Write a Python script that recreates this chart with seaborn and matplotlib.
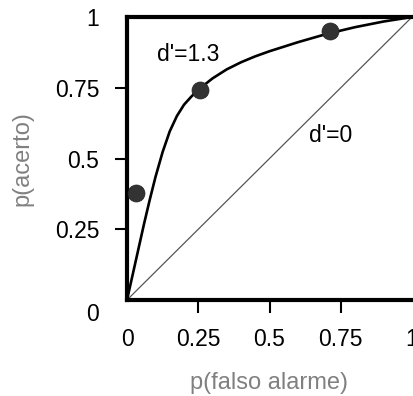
import matplotlib
matplotlib.use("Agg")
import matplotlib.pyplot as plt
import matplotlib.transforms as mtrans
import seaborn as sns
import pandas as pd

# ROC curve for d'=1.3
curve_fa = [0.0, 0.02, 0.04, 0.06, 0.08, 0.10, 0.125, 0.15, 0.175, 0.20, 0.225,
            0.25, 0.30, 0.35, 0.40, 0.45, 0.50, 0.60, 0.70, 0.80, 0.90, 1.0]
curve_hit = [0.0, 0.09, 0.18, 0.27, 0.355, 0.435, 0.523, 0.596, 0.650, 0.690, 0.718,
             0.743, 0.783, 0.815, 0.840, 0.861, 0.879, 0.911, 0.940, 0.964, 0.984, 1.0]
# chance diagonal (d'=0)
diag_fa = [0.0, 1.0]
diag_hit = [0.0, 1.0]
# observed points
pts_fa = [0.032, 0.256, 0.712]
pts_hit = [0.378, 0.742, 0.951]

tick_vals = [0, 0.25, 0.5, 0.75, 1]
tick_labels = ["0", "0.25", "0.5", "0.75", "1"]

sns.set_style("white")
plt.rcParams['font.family'] = ['Liberation Sans', 'DejaVu Sans']

W, H = 413, 396
fig = plt.figure(figsize=(W / 100, H / 100), dpi=100)
ax = fig.add_axes([127 / W, (H - 300) / H, 285 / W, 283 / H])

curve_df = pd.DataFrame({"fa": curve_fa, "hit": curve_hit})
diag_df = pd.DataFrame({"fa": diag_fa, "hit": diag_hit})
pts_df = pd.DataFrame({"fa": pts_fa, "hit": pts_hit})

sns.lineplot(data=diag_df, x="fa", y="hit", ax=ax, color="#555555", lw=0.9,
             sort=False, estimator=None)
sns.lineplot(data=curve_df, x="fa", y="hit", ax=ax, color="black", lw=1.9,
             sort=False, estimator=None)
sns.scatterplot(data=pts_df, x="fa", y="hit", ax=ax, color="#333333", s=150,
                edgecolor="#222222", linewidth=0.5, zorder=5)

ax.set_xlim(0, 1)
ax.set_ylim(0, 1)
ax.set_xticks(tick_vals)
ax.set_xticklabels(tick_labels)
ax.set_yticks(tick_vals)
ax.set_yticklabels(tick_labels)

for s in ["left", "bottom", "top"]:
    ax.spines[s].set_linewidth(3)
    ax.spines[s].set_color("black")
ax.spines["right"].set_visible(False)

ax.tick_params(axis="both", which="major", direction="out", length=9, width=1.5,
               pad=11, labelsize=16.5, colors="black", bottom=True, left=True)

# hide tick marks at the corners
for tk in [ax.xaxis.get_major_ticks()[0], ax.xaxis.get_major_ticks()[-1],
           ax.yaxis.get_major_ticks()[0], ax.yaxis.get_major_ticks()[-1]]:
    tk.tick1line.set_visible(False)

# shift the y "0" label down a little, as in the reference
lbl0 = ax.get_yticklabels()[0]
lbl0.set_transform(lbl0.get_transform() + mtrans.ScaledTranslation(0, -12 / 100, fig.dpi_scale_trans))

ax.set_xlabel("p(falso alarme)", fontsize=17, color="#808080", labelpad=15)
ax.set_ylabel("p(acerto)", fontsize=17, color="#808080", labelpad=15)

ax.text(0.214, 0.866, "d'=1.3", fontsize=16.5, ha="center", va="center", color="black")
ax.text(0.716, 0.583, "d'=0", fontsize=16.5, ha="center", va="center", color="black")

fig.savefig("out.png", dpi=100)
